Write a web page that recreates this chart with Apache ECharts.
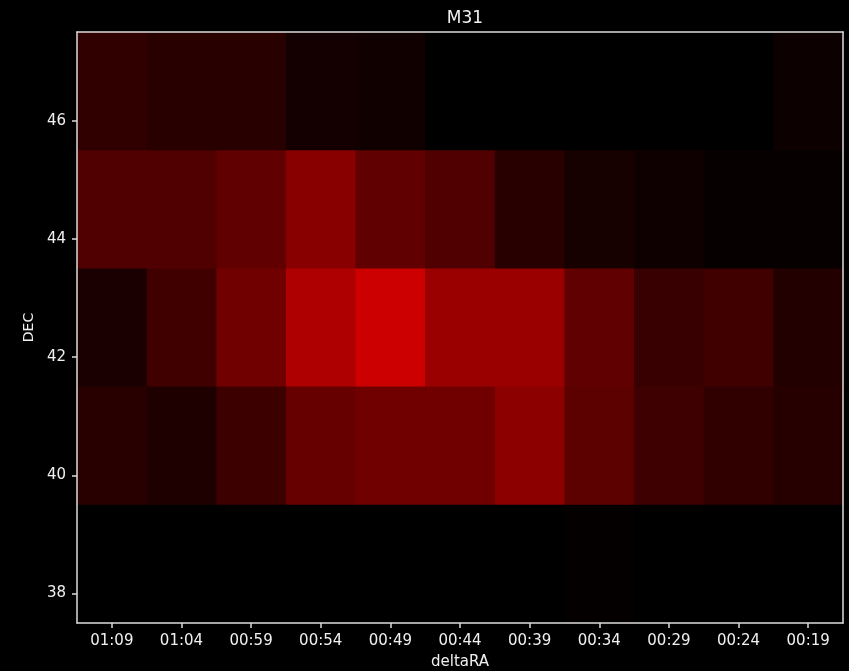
<!DOCTYPE html>
<html>
<head>
<meta charset="utf-8">
<script src="https://cdn.jsdelivr.net/npm/echarts@6/dist/echarts.min.js"></script>
<style>
  html, body { margin: 0; padding: 0; background: #000; }
  #chart { width: 849px; height: 671px; }
</style>
</head>
<body>
<div id="chart"></div>
<script>
// Right ascension bins (east to west) and declination bin centres
const raLabels = ['01:09', '01:04', '00:59', '00:54', '00:49', '00:44', '00:39', '00:34', '00:29', '00:24', '00:19'];
const decCenters = [46.5, 44.5, 42.5, 40.5, 38.5];
const decTicks = [38, 40, 42, 44, 46];

// Intensity per declination row (0 = black, 255 = full red)
const dec465 = [48, 40, 40, 20, 16, 0, 0, 0, 0, 0, 12];
const dec445 = [80, 80, 96, 136, 96, 80, 40, 22, 14, 7, 7];
const dec425 = [26, 64, 112, 174, 204, 154, 154, 96, 56, 64, 34];
const dec405 = [40, 30, 60, 102, 112, 112, 140, 92, 62, 48, 38];
const dec385 = [1, 1, 1, 0, 0, 0, 0, 5, 1, 1, 1];

const rows = [dec465, dec445, dec425, dec405, dec385];
const cells = [];
rows.forEach((row, r) => {
  row.forEach((v, c) => cells.push([c, decCenters[r], v]));
});

const textColor = '#f0f0f0';
const frameColor = '#dcdcdc';
const font = 'DejaVu Sans';

const chart = echarts.init(document.getElementById('chart'));
chart.setOption({
  backgroundColor: '#000',
  animation: false,
  title: {
    text: 'M31',
    left: 460, top: 5, textAlign: 'center',
    textStyle: { color: textColor, fontFamily: font, fontSize: 17, fontWeight: 'normal' }
  },
  grid: { left: 77, top: 32, width: 766, height: 591, containLabel: false, outerBoundsMode: 'none' },
  visualMap: {
    show: false, dimension: 2, min: 0, max: 255,
    inRange: { color: ['#000000', '#ff0000'] }
  },
  xAxis: [{
    type: 'category',
    data: raLabels,
    z: 10,
    name: 'deltaRA', nameLocation: 'middle', nameGap: 32,
    nameTextStyle: { color: textColor, fontFamily: font, fontSize: 15 },
    axisLine: { show: true, lineStyle: { color: frameColor, width: 1.5 } },
    axisTick: { show: true, alignWithLabel: true, length: 5, lineStyle: { color: frameColor, width: 1.5 } },
    axisLabel: { color: textColor, fontFamily: font, fontSize: 15, margin: 11 },
    splitLine: { show: false }
  }, {
    type: 'category', position: 'top', data: raLabels, z: 10,
    axisLine: { show: true, lineStyle: { color: frameColor, width: 1.5 } },
    axisTick: { show: false }, axisLabel: { show: false }, splitLine: { show: false }
  }],
  yAxis: [{
    type: 'value', min: 37.5, max: 47.5, z: 10,
    name: 'DEC', nameLocation: 'middle', nameGap: 38, nameRotate: 90,
    nameTextStyle: { color: textColor, fontFamily: font, fontSize: 14 },
    axisLine: { show: true, lineStyle: { color: frameColor, width: 1.5 } },
    axisTick: { show: true, length: 5, customValues: decTicks, lineStyle: { color: frameColor, width: 1.5 } },
    axisLabel: { color: textColor, fontFamily: font, fontSize: 15, margin: 11, customValues: decTicks },
    splitLine: { show: false }
  }, {
    type: 'value', position: 'right', min: 37.5, max: 47.5, z: 10,
    axisLine: { show: true, lineStyle: { color: frameColor, width: 1.5 } },
    axisTick: { show: false }, axisLabel: { show: false }, splitLine: { show: false }
  }],
  series: [{
    type: 'custom',
    xAxisIndex: 0, yAxisIndex: 0,
    data: cells,
    encode: { x: 0, y: 1 },
    renderItem: function (params, api) {
      const center = api.coord([api.value(0), api.value(1)]);
      const size = api.size([1, 2]);
      return {
        type: 'rect',
        shape: {
          x: center[0] - size[0] / 2,
          y: center[1] - size[1] / 2,
          width: size[0] + 0.5,
          height: size[1] + 0.5
        },
        style: { fill: api.visual('color') }
      };
    }
  }]
});
</script>
</body>
</html>
